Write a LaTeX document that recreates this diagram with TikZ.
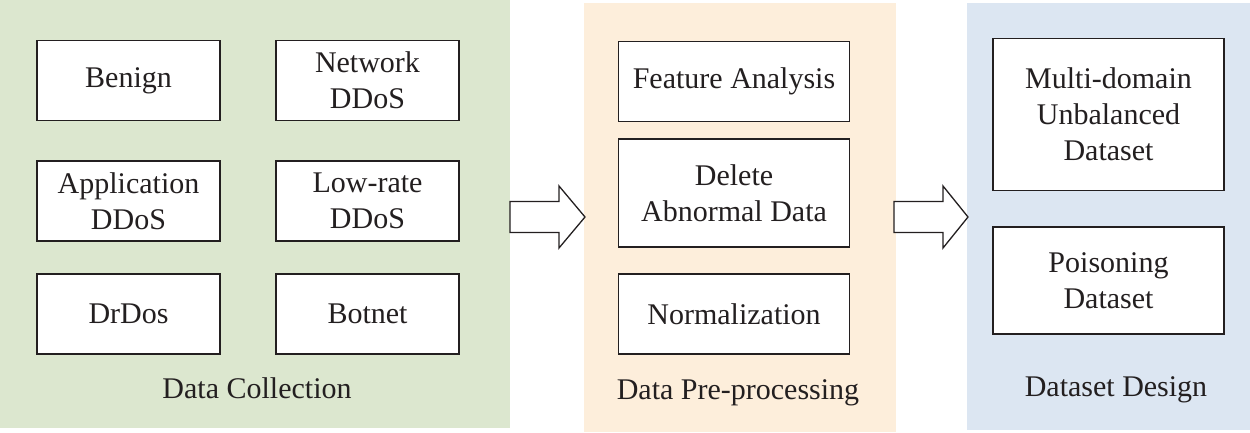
\documentclass[tikz,border=0pt]{standalone}
\usepackage{fontspec}
\setmainfont{Liberation Serif}
\newfontfamily\tnr{Liberation Serif}
\usetikzlibrary{positioning}
\definecolor{bggreen}{HTML}{DCE7CF}
\definecolor{bgorange}{HTML}{FDEEDB}
\definecolor{bgblue}{HTML}{DCE6F2}
\definecolor{edge}{HTML}{231F20}
\begin{document}
\begin{tikzpicture}[x=1pt,y=-1pt,
  box/.style={draw=edge,line width=1.3pt,fill=white,align=center,font=\tnr\fontsize{30}{36}\selectfont,text=edge,inner sep=0pt},
  lbl/.style={font=\tnr\fontsize{30}{36}\selectfont,text=edge},
  bigarrow/.style={draw=edge,line width=1.3pt,fill=white,line join=miter}]
\useasboundingbox (0,0) rectangle (1250,432);
% panels
\fill[bggreen] (0,0) rectangle (510,428);
\fill[bgorange] (584,3) rectangle (896,432);
\fill[bgblue] (967,3) rectangle (1250,430);
% Data collection boxes
\node[box,minimum width=183pt,minimum height=80pt] (benign) at (128.5,80.5) {Benign};
\node[box,minimum width=183pt,minimum height=80pt] (netddos) at (367.5,80.5) {Network\\DDoS};
\node[box,minimum width=183pt,minimum height=80pt] (appddos) at (128.5,201) {Application\\DDoS};
\node[box,minimum width=183pt,minimum height=80pt] (lowddos) at (367.5,201) {Low-rate\\DDoS};
\node[box,minimum width=183pt,minimum height=80pt] (drdos) at (128.5,314) {DrDos};
\node[box,minimum width=183pt,minimum height=80pt] (botnet) at (367.5,314) {Botnet};
\node[lbl] (lcoll) at (257,388) {Data Collection};
% Pre-processing
\node[box,minimum width=231pt,minimum height=80pt] (feat) at (734,81.3) {Feature Analysis};
\node[box,minimum width=231pt,minimum height=108pt] (delete) at (734,193) {Delete\\Abnormal Data};
\node[box,minimum width=231pt,minimum height=80pt] (norm) at (734,314) {Normalization};
\node[lbl] (lpre) at (738,393) {Data Pre-processing};
% Dataset design
\node[box,minimum width=231pt,minimum height=152pt] (multi) at (1108.5,114.5) {Multi-domain\\Unbalanced\\Dataset};
\node[box,minimum width=231pt,minimum height=107pt] (poison) at (1108.5,280.5) {Poisoning\\Dataset};
\node[lbl] (ldes) at (1116,390) {Dataset Design};
% block arrows
\coordinate (a1s) at (510,217);
\coordinate (a1t) at (585,217);
\coordinate (a2s) at (894,217);
\coordinate (a2t) at (968,217);
\draw[bigarrow] (a1s) ++(0,-15.5) -- ++(49,0) -- ++(0,-15.5) -- (a1t) -- ++(-26,31) -- ++(0,-15.5) -- ++(-49,0) -- cycle;
\draw[bigarrow] (a2s) ++(0,-15.5) -- ++(49,0) -- ++(0,-15.5) -- (a2t) -- ++(-25,31) -- ++(0,-15.5) -- ++(-49,0) -- cycle;
\end{tikzpicture}
\end{document}
